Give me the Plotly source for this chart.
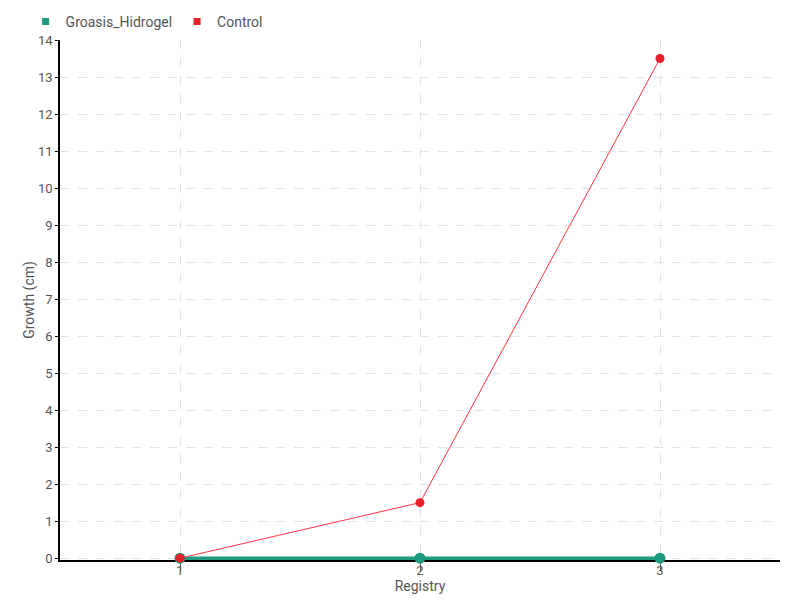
import plotly.graph_objects as go

registry = [1, 2, 3]
groasis_hidrogel = [0, 0, 0]
control = [0, 1.5, 13.5]
y_ticks = list(range(0, 15))

FONT = "Roboto, sans-serif"
GREEN = "#1f9980"
RED_LINE = "#ff3344"
RED_MK = "#e8202a"

fig = go.Figure()
fig.add_trace(go.Scatter(
    x=registry, y=groasis_hidrogel, name="Groasis_Hidrogel", mode="lines+markers",
    line=dict(color=GREEN, width=3.5),
    marker=dict(color=GREEN, size=11, symbol="circle"),
    cliponaxis=False, showlegend=False,
))
fig.add_trace(go.Scatter(
    x=registry, y=control, name="Control", mode="lines+markers",
    line=dict(color=RED_LINE, width=1),
    marker=dict(color=RED_MK, size=9, symbol="circle"),
    cliponaxis=False, showlegend=False,
))
# legend entries (square keys)
fig.add_trace(go.Scatter(x=[None], y=[None], name="Groasis_Hidrogel", mode="markers",
                         marker=dict(color=GREEN, size=7, symbol="square")))
fig.add_trace(go.Scatter(x=[None], y=[None], name="Control", mode="markers",
                         marker=dict(color=RED_MK, size=7, symbol="square")))

fig.update_layout(
    width=800, height=600,
    margin=dict(l=60, r=20, t=40, b=40, autoexpand=False),
    plot_bgcolor="white", paper_bgcolor="white",
    font=dict(family=FONT, size=13, color="#555555"),
    showlegend=True,
    legend=dict(orientation="h", x=0.032, y=0.99, xref="container", yref="container",
                xanchor="left", yanchor="top", itemwidth=30, bgcolor="rgba(0,0,0,0)",
                font=dict(size=14, color="#555555"), tracegroupgap=0),
    xaxis=dict(
        range=[0.5, 3.5], tickvals=registry, ticktext=[str(v) for v in registry],
        showline=True, linecolor="black", linewidth=1.5, layer="below traces",
        ticks="outside", ticklen=9, tickcolor="#555555", ticklabelstandoff=-11,
        showgrid=True, gridcolor="#e3e3e3", griddash="dash", gridwidth=1,
        zeroline=False,
        title=dict(text="Registry", standoff=0, font=dict(size=14)),
        tickfont=dict(size=13),
    ),
    yaxis=dict(
        range=[-0.05, 14], tickvals=y_ticks,
        showline=True, linecolor="black", linewidth=1.5, layer="below traces",
        ticks="outside", ticklen=3, tickcolor="black",
        showgrid=True, gridcolor="#e3e3e3", griddash="dash", gridwidth=1,
        zeroline=False,
        title=dict(text="Growth (cm)", standoff=0, font=dict(size=14)),
        tickfont=dict(size=13),
    ),
)

fig.write_html("out.html", config={"displayModeBar": False},
               post_script="document.body.style.margin='0';")
